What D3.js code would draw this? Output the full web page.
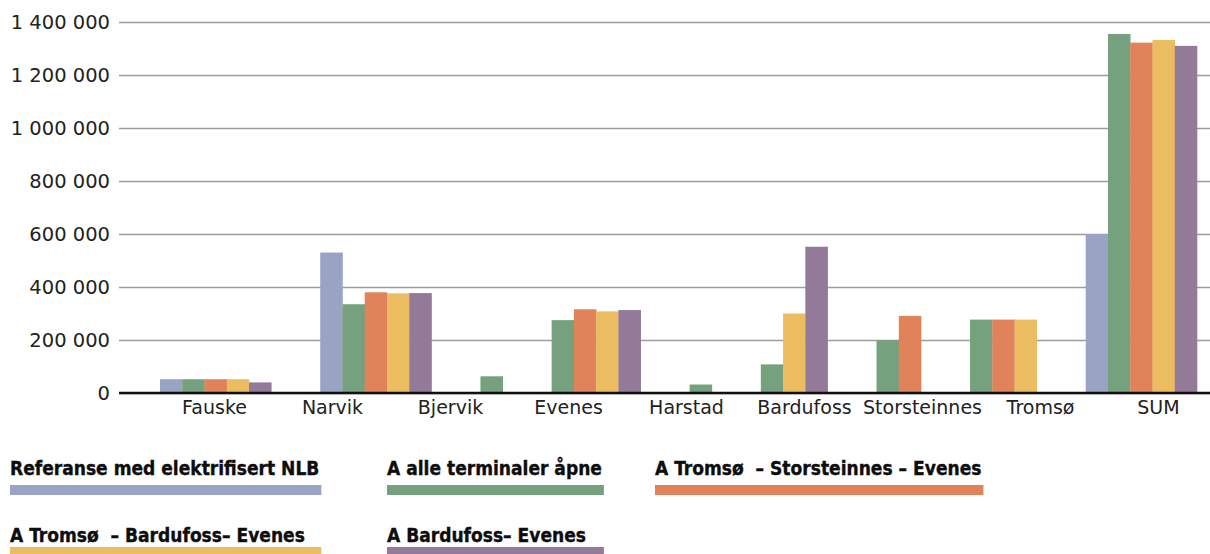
<!DOCTYPE html>
<html>
<head>
<meta charset="utf-8">
<script src="https://cdn.jsdelivr.net/npm/d3@7"></script>
<style>
  html, body { margin: 0; padding: 0; background: #fff; }
  svg { display: block; }
</style>
</head>
<body>
<svg id="chart" width="1210" height="554"></svg>
<script>
// Terminals along the line, plus the total
const categories = ["Fauske", "Narvik", "Bjervik", "Evenes", "Harstad", "Bardufoss", "Storsteinnes", "Tromsø", "SUM"];

// Scenario names (legend order)
const seriesNames = [
  "Referanse med elektrifisert NLB",
  "A alle terminaler åpne",
  "A Tromsø  – Storsteinnes – Evenes",
  "A Tromsø  – Bardufoss– Evenes",
  "A Bardufoss– Evenes"
];
const seriesColors = ["#99a3c4", "#76a17e", "#e0825a", "#ebbd60", "#927a98"];

// Volumes per terminal (null = terminal not in the scenario)
const referanse          = [52000, 530000, null,  null,   null,  null,   null,   null,   600000];
const alleTerminaler     = [52000, 335000, 63000, 275000, 32000, 108000, 199000, 277000, 1355000];
const tromsoStorsteinnes = [52000, 380000, null,  316000, null,  null,   291000, 277000, 1322000];
const tromsoBardufoss    = [52000, 376000, null,  308000, null,  300000, null,   277000, 1332000];
const bardufossEvenes    = [40000, 377000, null,  313000, null,  552000, null,   null,   1310000];
const seriesValues = [referanse, alleTerminaler, tromsoStorsteinnes, tromsoBardufoss, bardufossEvenes];

const yTicks = [0, 200000, 400000, 600000, 800000, 1000000, 1200000, 1400000];

// ---- layout ----
const plot = { left: 119, right: 1210, top: 22, bottom: 393 };
const svg = d3.select("#chart");
const axisFont = "'DejaVu Sans', sans-serif";

const y = d3.scaleLinear().domain([0, 1400000]).range([plot.bottom, plot.top]);
const fmt = d3.formatLocale({ decimal: ",", thousands: " ", grouping: [3], currency: ["", " kr"] }).format(",");

// horizontal gridlines + value labels
const gy = svg.append("g")
  .attr("transform", `translate(${plot.left},0)`)
  .call(d3.axisLeft(y).tickValues(yTicks).tickSize(-(plot.right - plot.left)).tickPadding(9).tickFormat(fmt));
gy.select(".domain").remove();
gy.selectAll(".tick line").attr("stroke", "#9d9d9d").attr("stroke-width", 1.5);
gy.selectAll(".tick text")
  .attr("font-family", axisFont).attr("font-size", 19.5).attr("fill", "#222");

// bars are packed per terminal (only scenarios that include it), with a fixed gap between terminals
const gapUnits = 2.2;
const groups = categories.map((cat, i) => ({
  cat,
  bars: seriesValues.map((vals, s) => ({ s, v: vals[i] })).filter(d => d.v != null)
}));
let cursor = 0;
groups.forEach(g => {
  g.start = cursor;
  cursor += g.bars.length;
  g.end = cursor;
  cursor += gapUnits;
});
const x = d3.scaleLinear().domain([0, groups[groups.length - 1].end]).range([160, 1197]);
const barW = x(1) - x(0);

const gGroups = svg.append("g").selectAll("g").data(groups).join("g");
gGroups.selectAll("rect")
  .data(g => g.bars.map((b, j) => ({ ...b, pos: g.start + j })))
  .join("rect")
  .attr("x", d => x(d.pos))
  .attr("width", barW + 0.3)
  .attr("y", d => y(d.v))
  .attr("height", d => y(0) - y(d.v))
  .attr("fill", d => seriesColors[d.s]);

// zero line
svg.append("line")
  .attr("x1", plot.left).attr("x2", plot.right)
  .attr("y1", y(0)).attr("y2", y(0))
  .attr("stroke", "#111").attr("stroke-width", 2.5);

// terminal names
const xLabel = d3.scalePoint().domain(categories).range([214, 1158]);
const gx = svg.append("g")
  .attr("transform", `translate(0,${plot.bottom})`)
  .call(d3.axisBottom(xLabel).tickSize(0).tickPadding(7.5));
gx.select(".domain").remove();
gx.selectAll(".tick text")
  .attr("font-family", axisFont).attr("font-size", 19).attr("fill", "#222");

// ---- legend ----
const legendCols = [10, 387, 655];
const legendRows = [{ text: 475, bar: 485 }, { text: 542, bar: 547 }];
const perRow = 3;
const legendFont = "'DejaVu Sans Condensed', 'DejaVu Sans', sans-serif";

const items = svg.append("g").selectAll("g")
  .data(seriesNames.map((name, s) => ({ name, s, col: s % perRow, row: Math.floor(s / perRow) })))
  .join("g");
items.append("text")
  .attr("x", d => legendCols[d.col])
  .attr("y", d => legendRows[d.row].text)
  .attr("font-family", legendFont)
  .attr("font-stretch", "condensed")
  .attr("font-weight", "bold")
  .attr("font-size", 19)
  .attr("fill", "#0d0d0d")
  .attr("stroke", "#0d0d0d")
  .attr("stroke-width", 0.35)
  .style("white-space", "pre")
  .text(d => d.name);

// swatch bars share the width of the widest label in their column
const colWidth = legendCols.map(() => 0);
items.select("text").each(function (d) {
  colWidth[d.col] = Math.max(colWidth[d.col], this.getComputedTextLength());
});
items.append("rect")
  .attr("x", d => legendCols[d.col])
  .attr("y", d => legendRows[d.row].bar)
  .attr("width", d => colWidth[d.col] + 2)
  .attr("height", 10)
  .attr("fill", d => seriesColors[d.s]);
</script>
</body>
</html>
